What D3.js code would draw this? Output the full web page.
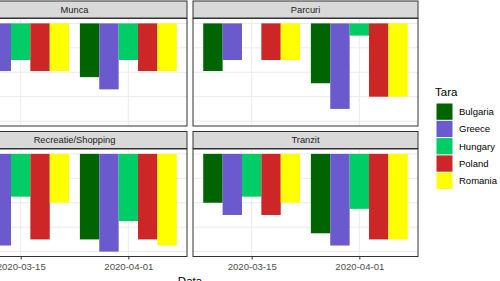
<!DOCTYPE html>
<html>
<head>
<meta charset="utf-8">
<script src="https://cdn.jsdelivr.net/npm/d3@7"></script>
<style>
  body { margin: 0; background: #fff; }
  svg { display: block; font-family: "Liberation Sans", Arial, sans-serif; }
</style>
</head>
<body>
<svg id="chart" width="500" height="281"></svg>
<script>
// data (mobility change, %)
const categories = ['Munca', 'Parcuri', 'Recreatie/Shopping', 'Tranzit'];
const countries = ['Bulgaria', 'Greece', 'Hungary', 'Poland', 'Romania'];
const dates = ['2020-03-15', '2020-04-01'];
const colors = ['#006400', '#6A5ACD', '#00CD66', '#CD2626', '#FFFF00'];

// one row per date, one value per country
const munca = [[-30, -39, -30, -39, -39], [-44, -54, -30, -39, -39]];
const parcuri = [[-39, -30, null, -30, -30], [-49, -70, -10, -60, -60]];
const recreatie = [[-65, -75, -35, -70, -40], [-70, -80, -55, -70, -75]];
const tranzit = [[-40, -50, -35, -50, -40], [-65, -75, -45, -70, -70]];
const yTicks = [-80, -60, -40, -20, 0];

const panelValues = [munca, parcuri, recreatie, tranzit];

const svg = d3.select('#chart');
const parse = d3.utcParse('%Y-%m-%d');
const dts = dates.map(parse);

// layout of the facet grid (left part is cropped off in the reference)
const panelW = 225, panelH = 107.5, stripH = 17;
const cols = [-38, 193];
const rows = [1, 131.5];

const res = (dts[1] - dts[0]);            // resolution of the date axis
const barSpan = res * 0.9;
const span = (dts[1] - dts[0]) + barSpan;
const pad = barSpan / 2 + span * 0.05;
const x = d3.scaleUtc()
	.domain([new Date(+dts[0] - pad), new Date(+dts[1] + pad)])
	.range([0, panelW]);

const allVals = panelValues.flat(2).filter(v => v != null);
const yMin = d3.min(allVals), yMax = 0;
const yExp = (yMax - yMin) * 0.05;
const y = d3.scaleLinear()
	.domain([yMin - yExp, yMax + yExp])
	.range([panelH, 0]);

const barW = barSpan / countries.length;

categories.forEach((cat, i) => {
	const px = cols[i % 2];
	const py = rows[Math.floor(i / 2)];
	const g = svg.append('g').attr('transform', `translate(${px},${py})`);

	// strip
	g.append('rect')
		.attr('x', 0).attr('y', 0)
		.attr('width', panelW).attr('height', stripH)
		.attr('fill', '#D9D9D9').attr('stroke', '#333').attr('stroke-width', 1);
	g.append('text')
		.attr('x', panelW / 2).attr('y', stripH / 2 + 3.4)
		.attr('text-anchor', 'middle')
		.attr('font-size', 9.3).attr('fill', '#1A1A1A')
		.text(cat);

	const p = g.append('g').attr('transform', `translate(0,${stripH + 0.5})`);
	p.append('rect')
		.attr('width', panelW).attr('height', panelH)
		.attr('fill', '#fff');

	// grid
	p.selectAll('.ymaj').data(yTicks).join('line')
		.attr('x1', 0).attr('x2', panelW)
		.attr('y1', d => y(d)).attr('y2', d => y(d))
		.attr('stroke', '#EBEBEB').attr('stroke-width', 1);
	p.selectAll('.xmaj').data(dts).join('line')
		.attr('x1', d => x(d)).attr('x2', d => x(d))
		.attr('y1', 0).attr('y2', panelH)
		.attr('stroke', '#EBEBEB').attr('stroke-width', 1);

	// bars
	const bars = [];
	panelValues[i].forEach((row, di) => {
		row.forEach((v, ci) => {
			if (v == null) return;
			const start = +dts[di] - barSpan / 2 + ci * barW;
			bars.push({ v, ci, x0: new Date(start), x1: new Date(start + barW) });
		});
	});
	p.selectAll('.bar').data(bars).join('rect')
		.attr('x', d => x(d.x0))
		.attr('width', d => x(d.x1) - x(d.x0))
		.attr('y', d => y(Math.max(0, d.v)))
		.attr('height', d => Math.abs(y(d.v) - y(0)))
		.attr('fill', d => colors[d.ci]);

	p.append('rect')
		.attr('width', panelW).attr('height', panelH)
		.attr('fill', 'none').attr('stroke', '#333').attr('stroke-width', 1);

	// x axis only on bottom row
	if (Math.floor(i / 2) === 1) {
		const ax = p.append('g')
			.attr('transform', `translate(0,${panelH})`)
			.call(d3.axisBottom(x).tickValues(dts).tickFormat(d3.utcFormat('%Y-%m-%d')).tickSize(3).tickPadding(3.5));
		ax.select('.domain').remove();
		ax.selectAll('line').attr('stroke', '#333');
		ax.selectAll('text').attr('font-size', 9.6).attr('fill', '#4D4D4D')
			.attr('font-family', '"Liberation Sans", Arial, sans-serif');
	}
});

// axis title
svg.append('text')
	.attr('x', (cols[0] + cols[1] + panelW) / 2).attr('y', 285)
	.attr('text-anchor', 'middle').attr('font-size', 11.5).attr('fill', '#000')
	.text('Data');

// legend
const leg = svg.append('g').attr('transform', 'translate(436,86)');
leg.append('text').attr('x', -1).attr('y', 10)
	.attr('font-size', 11.5).attr('fill', '#000').text('Tara');
const keyH = 17.3;
const items = leg.selectAll('.key').data(countries).join('g')
	.attr('transform', (d, k) => `translate(0,${17 + k * keyH})`);
items.append('rect')
	.attr('x', 0.5).attr('y', 0.5).attr('width', 16).attr('height', keyH - 1)
	.attr('fill', (d, k) => colors[k]);
items.append('text')
	.attr('x', 23).attr('y', keyH / 2 + 3.3)
	.attr('font-size', 9.5).attr('fill', '#000')
	.text(d => d);
</script>
</body>
</html>
